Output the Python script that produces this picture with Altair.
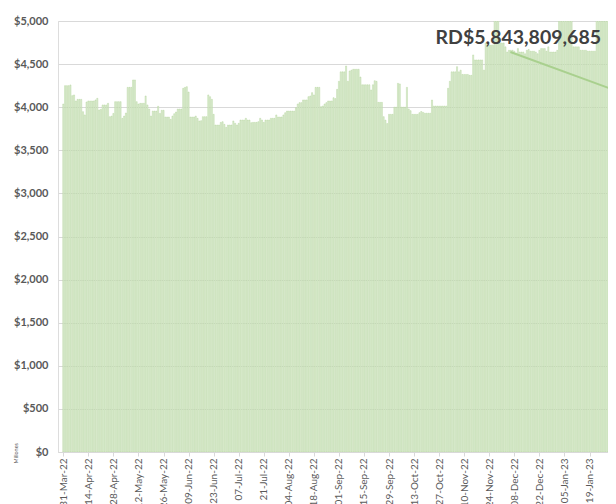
import altair as alt
import pandas as pd

start_date = "2022-03-31"
values = [
    4037, 4250, 4250, 4250, 4258, 4134, 4142, 4072, 4091, 4091,
    4091, 3948, 3910, 4060, 4072, 4072, 4072, 4072, 4084, 4103,
    3968, 3975, 4026, 4026, 4026, 4045, 3890, 3897, 3928, 4064,
    4064, 4064, 4064, 3871, 3897, 3932, 4230, 4230, 4230, 4316,
    4316, 4064, 4037, 4045, 4045, 4045, 4130, 4026, 3979, 3897,
    3955, 3955, 3955, 4010, 3928, 3964, 3964, 3886, 3886, 3886,
    3859, 3897, 3924, 3944, 3979, 3979, 3979, 4219, 4230, 4238,
    4176, 3886, 3886, 3886, 3897, 3871, 3840, 3844, 3890, 3890,
    3890, 4142, 4122, 4091, 3917, 3793, 3793, 3793, 3824, 3832,
    3801, 3766, 3793, 3793, 3793, 3840, 3813, 3793, 3813, 3851,
    3851, 3851, 3871, 3851, 3851, 3820, 3824, 3824, 3824, 3832,
    3871, 3851, 3824, 3851, 3851, 3851, 3871, 3871, 3871, 3910,
    3886, 3886, 3886, 3910, 3936, 3955, 3955, 3955, 3955, 3955,
    3994, 4037, 4053, 4053, 4084, 4084, 4084, 4122, 4130, 4169,
    4142, 4230, 4230, 4230, 4006, 4014, 4037, 4053, 4072, 4072,
    4072, 4110, 4100, 4207, 4300, 4410, 4410, 4410, 4478, 4300,
    4420, 4430, 4440, 4440, 4440, 4440, 4350, 4260, 4260, 4260,
    4260, 4260, 4200, 4260, 4307, 4300, 4056, 4056, 4056, 3890,
    3850, 3810, 3917, 3917, 3917, 4000, 4000, 4277, 4270, 4000,
    4000, 4000, 4230, 3980, 3960, 3917, 3917, 3917, 3917, 3936,
    3950, 3940, 3930, 3930, 3930, 3930, 4083, 4013, 4013, 4013,
    4013, 4013, 4013, 4013, 4013, 4219, 4300, 4410, 4410, 4410,
    4470, 4410, 4430, 4380, 4380, 4380, 4380, 4370, 4370, 4606,
    4548, 4548, 4548, 4548, 4548, 4430, 4745, 4745, 4720, 4720,
    4720, 5100, 5100, 5100, 4745, 4745, 4745, 4700, 4640, 4660,
    4660, 4660, 4650, 4630, 4680, 4640, 4640, 4640, 4620, 4660,
    4670, 4650, 4650, 4650, 4640, 4620, 4660, 4680, 4680, 4680,
    4650, 4700, 4640, 4640, 4640, 4640, 4660, 5100, 5100, 5100,
    5100, 5100, 5100, 5100, 5100, 4700, 4700, 4700, 4700, 4660,
    4660, 4660, 4660, 4650, 4650, 4650, 4650, 4650, 5100, 5100,
    5100, 5100, 5100, 5100, 5100, 5100,
]
tick_dates = [
    "2022-03-31", "2022-04-14", "2022-04-28", "2022-05-12", "2022-05-26",
    "2022-06-09", "2022-06-23", "2022-07-07", "2022-07-21", "2022-08-04",
    "2022-08-18", "2022-09-01", "2022-09-15", "2022-09-29", "2022-10-13",
    "2022-10-27", "2022-11-10", "2022-11-24", "2022-12-08", "2022-12-22",
    "2023-01-05", "2023-01-19",
]
y_ticks = [0, 500, 1000, 1500, 2000, 2500, 3000, 3500, 4000, 4500, 5000]
annot_text = ["RD$5,843,809,685"]
annot_pos = ["2022-10-25T00:00:00Z"]
annot_val = [4733]
arrow_from = ["2022-12-05T19:00:00Z", 4640]
arrow_to = ["2023-01-30T02:00:00Z", 4220]

dates = pd.date_range(start_date, periods=len(values), freq="D")
df = pd.DataFrame({"date": dates.strftime("%Y-%m-%dT00:00:00Z"), "value": values})

def dt(s):
    ts = pd.Timestamp(s)
    return alt.DateTime(year=ts.year, month=ts.month, date=ts.day,
                        hours=ts.hour, minutes=ts.minute, utc=True)

x_domain = [dt("2022-03-30T20:00:00"), dt("2023-01-26T13:00:00")]
xscale = alt.Scale(type="utc", domain=x_domain, nice=False)
yscale = alt.Scale(domain=[0, 5000], nice=False)

x_axis = alt.Axis(values=[dt(d) for d in tick_dates], format="%d-%b-%y",
                  labelAngle=-90, labelFont="Lato", labelFontSize=10,
                  labelColor="#595959", tickColor="#d9d9d9", tickSize=4,
                  domainColor="#d9d9d9", labelPadding=2, grid=False,
                  labelOverlap=False, labelBound=False, labelFlush=False,
                  labelSeparation=0)
y_axis = alt.Axis(values=y_ticks, format="$,.0f", labelFont="Lato",
                  labelFontSize=11, labelFontWeight="bold",
                  labelColor="#595959", tickSize=0, labelPadding=10,
                  domain=False, gridColor="#d9d9d9", gridWidth=1,
                  titleFont="Lato", titleFontSize=5.5, titleFontWeight="normal",
                  titleColor="#595959", titleAngle=-90, titleAlign="left",
                  titleBaseline="middle", titleX=-43, titleY=442)

def X(field):
    return alt.X(field, type="temporal", scale=xscale, title=None, axis=x_axis)

def Y(field):
    return alt.Y(field, type="quantitative", scale=yscale, title="Millones", axis=y_axis)

bars = alt.Chart(df).mark_bar(
    width=1.1, fill="#e2efda", stroke="#a9d08e", strokeWidth=0.4, clip=True
).encode(x=X("date"), y=Y("value"))

adf = pd.DataFrame({"date": annot_pos, "value": annot_val, "label": annot_text})
text = alt.Chart(adf).mark_text(
    align="left", baseline="alphabetic", font="Lato", fontSize=19.5,
    fontWeight="bold", color="#404040"
).encode(x=X("date"), y=Y("value"), text="label:N")

ldf = pd.DataFrame({"date": [arrow_from[0]], "value": [arrow_from[1]],
                    "date2": [arrow_to[0]], "value2": [arrow_to[1]]})
line = alt.Chart(ldf).mark_rule(color="#a9d08e", strokeWidth=2, clip=True).encode(
    x=X("date"), x2="date2:T", y=Y("value"), y2="value2:Q")

chart = alt.layer(bars, text, line).properties(
    width=550, height=431,
    autosize=alt.AutoSizeParams(type="none"),
    padding={"left": 50, "top": 13, "right": 0, "bottom": 52},
).configure_view(stroke=None).configure_axis(labelOverlap=False).configure(background="white")

chart.save("out.html", embed_options={"renderer": "svg", "actions": False})
